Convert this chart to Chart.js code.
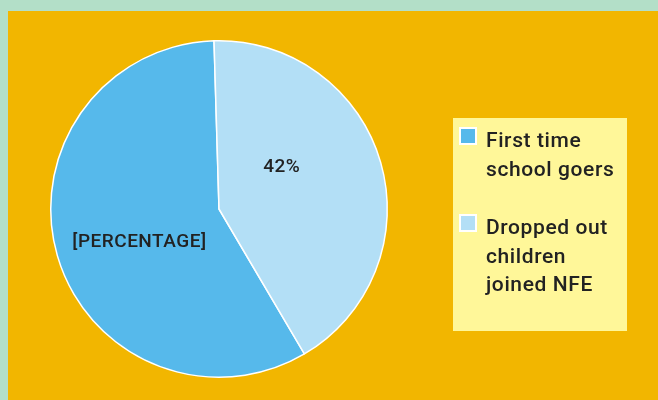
<!DOCTYPE html>
<html>
<head>
<meta charset="utf-8">
<script src="https://cdn.jsdelivr.net/npm/chart.js@4/dist/chart.umd.min.js"></script>
<style>
html,body{margin:0;padding:0;background:#b3dfc8;}
#wrap{position:relative;width:658px;height:400px;}
canvas{display:block;}
</style>
</head>
<body>
<div id="wrap"><canvas id="c" width="658" height="400"></canvas></div>
<script>
const categories = ["First time\nschool goers", "Dropped out\nchildren\njoined NFE"];
const values = [58, 42];
const sliceLabels = ["[PERCENTAGE]", "42%"];
const colors = ["#56b9eb", "#b3dff6"];

const bgPlugin = {
  id: 'bg',
  beforeDraw(chart) {
    const ctx = chart.ctx;
    ctx.save();
    ctx.fillStyle = '#b3dfc8';
    ctx.fillRect(0, 0, chart.width, chart.height);
    ctx.fillStyle = '#f2b600';
    ctx.fillRect(8, 11, chart.width - 8, chart.height - 11);
    ctx.restore();
  }
};

// label placement relative to pie centre, as fraction of outer radius
const labelOffsets = [[-0.473, 0.189], [0.373, -0.254]];

const labelPlugin = {
  id: 'sliceLabels',
  afterDatasetsDraw(chart) {
    const ctx = chart.ctx;
    const meta = chart.getDatasetMeta(0);
    ctx.save();
    ctx.font = '500 19px Roboto, "DejaVu Sans", sans-serif';
    ctx.letterSpacing = '0.5px';
    ctx.fillStyle = '#222222';
    ctx.textAlign = 'center';
    ctx.textBaseline = 'middle';
    meta.data.forEach((arc, i) => {
      const r = arc.outerRadius;
      ctx.fillText(sliceLabels[i], arc.x + labelOffsets[i][0] * r, arc.y + labelOffsets[i][1] * r + 1);
    });
    ctx.restore();
  }
};

const legendPlugin = {
  id: 'boxLegend',
  afterDraw(chart) {
    const ctx = chart.ctx;
    ctx.save();
    ctx.fillStyle = '#fff799';
    ctx.fillRect(453, 118, 174, 213);
    ctx.font = '500 21px Roboto, "DejaVu Sans", sans-serif';
    ctx.letterSpacing = '0.6px';
    ctx.textBaseline = 'alphabetic';
    ctx.textAlign = 'left';
    const starts = [147, 234];
    const lineH = 28.5;
    chart.data.labels.forEach((lab, i) => {
      const y0 = starts[i];
      ctx.fillStyle = '#ffffff';
      ctx.fillRect(459, y0 - 20, 18, 18);
      ctx.fillStyle = colors[i];
      ctx.fillRect(461, y0 - 18, 14, 14);
      ctx.fillStyle = '#222222';
      lab.split('\n').forEach((ln, j) => {
        ctx.fillText(ln, 486, y0 + j * lineH);
      });
    });
    ctx.restore();
  }
};

new Chart(document.getElementById('c'), {
  type: 'pie',
  data: {
    labels: categories,
    datasets: [{
      data: values,
      backgroundColor: colors,
      borderColor: '#ffffff',
      borderWidth: 1.5
    }]
  },
  options: {
    responsive: false,
    animation: false,
    rotation: 149.5,
    layout: { padding: { left: 50, top: 40, right: 270, bottom: 22 } },
    plugins: {
      legend: { display: false },
      tooltip: { enabled: false }
    }
  },
  plugins: [bgPlugin, labelPlugin, legendPlugin]
});
</script>
</body>
</html>
